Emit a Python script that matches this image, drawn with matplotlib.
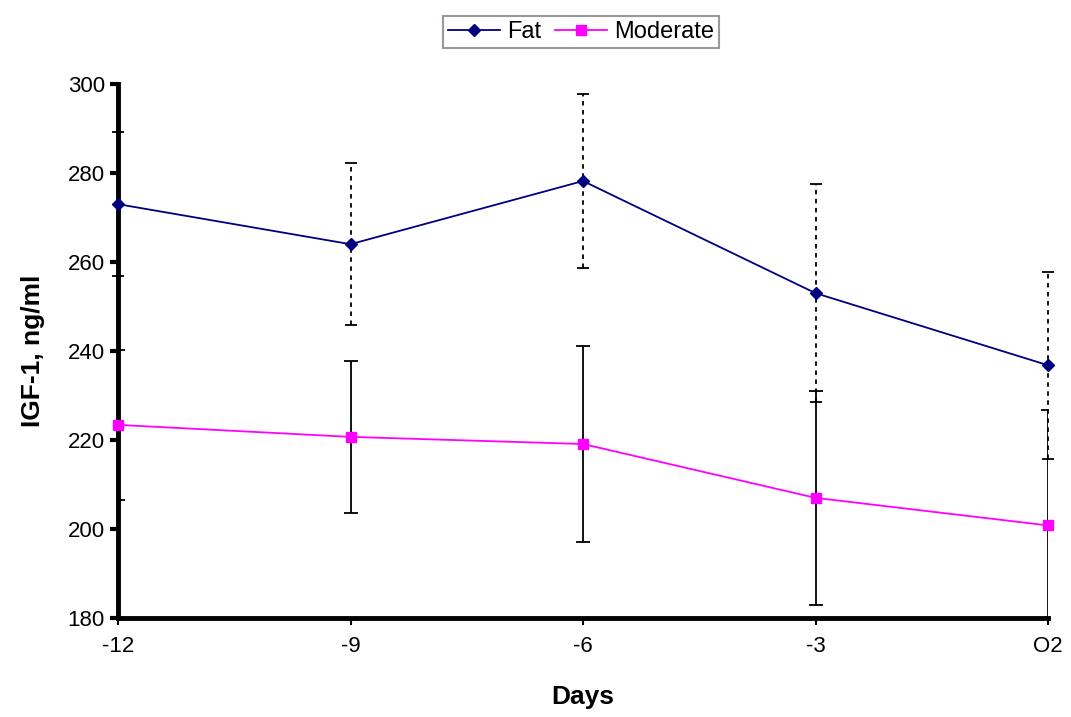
import numpy as np
import matplotlib.pyplot as plt

plt.rcParams['font.family'] = ['Liberation Sans', 'DejaVu Sans']

# data
days = ["-12", "-9", "-6", "-3", "O2"]
fat = [273.0, 264.0, 278.2, 253.0, 236.8]
fat_err = [16.2, 18.2, 19.5, 24.5, 21.0]
moderate = [223.4, 220.7, 219.1, 207.0, 200.8]
moderate_err = [16.9, 17.0, 22.0, 24.0, 26.0]

x = np.arange(len(days))

fig = plt.figure(figsize=(10.71, 7.17), dpi=100)
ax = fig.add_axes([118 / 1071, 1 - 618 / 717, 930 / 1071, 534 / 717])

# error bars first (black), fat dotted, moderate solid
eb = ax.errorbar(x, fat, yerr=fat_err, fmt='none', ecolor='black',
                 elinewidth=1.3, capsize=4, capthick=1.3, zorder=2, clip_on=False)
eb[2][0].set_linestyle((0, (2.5, 2.5)))
ax.errorbar(x, moderate, yerr=moderate_err, fmt='none', ecolor='black',
            elinewidth=1.3, capsize=5, capthick=1.3, zorder=2)

ax.plot(x, fat, color='#000080', marker='D', markersize=6, linewidth=1.3,
        label='Fat', zorder=3, clip_on=False)
ax.plot(x, moderate, color='#FF00FF', marker='s', markersize=7, linewidth=1.3,
        label='Moderate', zorder=3, clip_on=False)

ax.set_xlim(0, 4)
ax.set_ylim(180, 300)
ax.set_yticks(range(180, 301, 20))
ax.set_xticks(x)
ax.set_xticklabels(days)
ax.tick_params(axis='both', labelsize=16, width=3, length=6, direction='out')
ax.tick_params(axis='x', width=1.5, length=5, pad=8)

ax.spines['top'].set_visible(False)
ax.spines['right'].set_visible(False)
ax.spines['left'].set_linewidth(3.5)
ax.spines['bottom'].set_linewidth(3.5)

ax.set_xlabel('Days', fontsize=19, fontweight='bold', labelpad=20)
ax.set_ylabel('IGF-1, ng/ml', fontsize=19, fontweight='bold', labelpad=16)

leg = fig.legend(loc='center', bbox_to_anchor=(581 / 1071, 1 - 32 / 717), ncol=2,
                 fontsize=17, frameon=True, fancybox=False, handlelength=2.2,
                 handletextpad=0.3, columnspacing=0.6, borderpad=0.2)
leg.get_frame().set_edgecolor('#808080')
leg.get_frame().set_linewidth(1.5)

fig.savefig('out.png', dpi=100)
